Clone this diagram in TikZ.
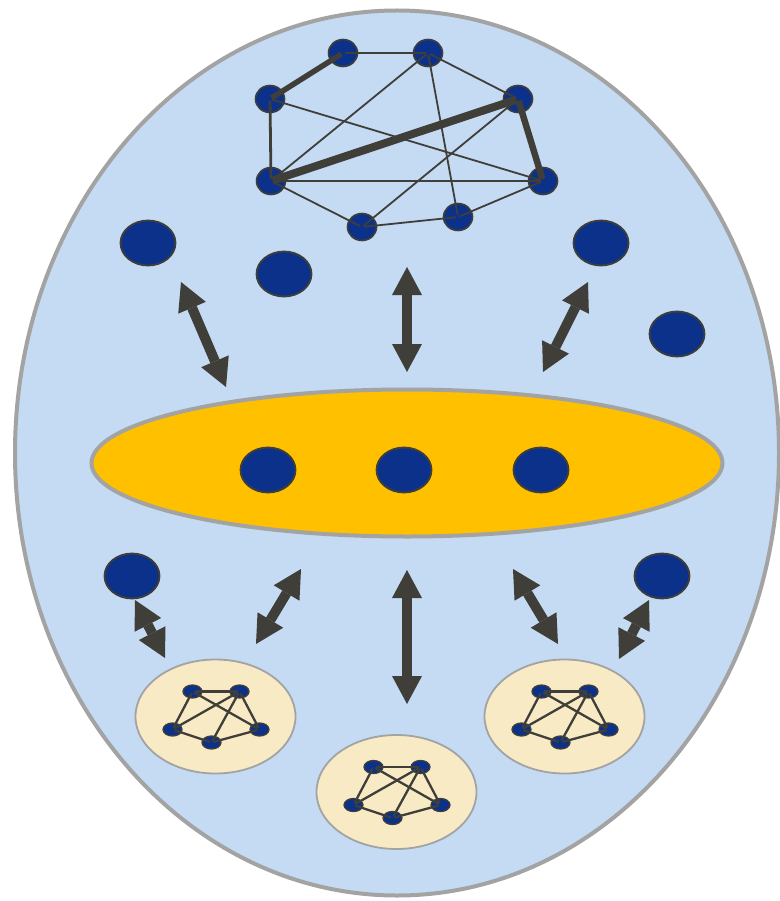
\documentclass[tikz,border=0pt]{standalone}
\usetikzlibrary{arrows.meta,shapes.geometric}
\definecolor{bgblue}{HTML}{C4DBF3}
\definecolor{gold}{HTML}{FFC000}
\definecolor{nodeblue}{HTML}{0B318A}
\definecolor{darkg}{HTML}{403E39}
\definecolor{rimgray}{HTML}{A3A3A3}
\definecolor{cream}{HTML}{F9EAC6}
\tikzset{
  outerbox/.style={ellipse, draw=rimgray, line width=4pt, fill=bgblue, inner sep=0pt},
  corebox/.style={ellipse, draw=rimgray, line width=4pt, fill=gold, inner sep=0pt},
  creambox/.style={ellipse, draw=rimgray, line width=1.8pt, fill=cream, inner sep=0pt, minimum width=160pt, minimum height=114pt},
  bignode/.style={ellipse, draw=darkg, line width=1.8pt, fill=nodeblue, inner sep=0pt, minimum width=55pt, minimum height=45pt},
  topnode/.style={ellipse, draw=darkg, line width=1.6pt, fill=nodeblue, inner sep=0pt, minimum width=29pt, minimum height=27pt},
  smallnode/.style={ellipse, draw=darkg, line width=1.3pt, fill=nodeblue, inner sep=0pt, minimum width=19pt, minimum height=13pt},
  link/.style={draw=darkg, line width=1.8pt, shorten <=2pt, shorten >=2pt},
  slink/.style={draw=darkg, line width=2.3pt, shorten <=2pt, shorten >=2pt},
  duo/.style={draw=darkg, line width=10pt,
    {Triangle[width=30pt,length=28pt,line width=0pt]}-{Triangle[width=30pt,length=28pt,line width=0pt]}}
}
\begin{document}
\begin{tikzpicture}[x=1pt,y=-1pt]
\useasboundingbox (0,0) rectangle (779,901);
% background ellipses
\node[outerbox, minimum width=764pt, minimum height=885pt] (outer) at (397,453) {};
\node[corebox, minimum width=631pt, minimum height=147pt] (core) at (407,463) {};
\node[creambox] (c1) at (215.5,716.5) {};
\node[creambox] (c2) at (396.5,792) {};
\node[creambox] (c3) at (564.5,716.5) {};
% top network
\node[topnode] (A) at (343,53) {};
\node[topnode] (B) at (428,53) {};
\node[topnode] (C) at (270,99) {};
\node[topnode] (D) at (518,99) {};
\node[topnode] (E) at (271,181) {};
\node[topnode] (F) at (543,181) {};
\node[topnode] (G) at (362,227) {};
\node[topnode] (H) at (458,217) {};
\draw[link] (A.center) -- (B.center);
\draw[link, line width=5.5pt] (A.center) -- (C.center);
\draw[link] (B.center) -- (D.center);
\draw[link] (B.center) -- (E.center);
\draw[link] (B.center) -- (H.center);
\draw[link, line width=2.8pt] (C.center) -- (E.center);
\draw[link] (C.center) -- (F.center);
\draw[link, line width=8pt] (D.center) -- (E.center);
\draw[link, line width=6.5pt] (D.center) -- (F.center);
\draw[link] (D.center) -- (G.center);
\draw[link, line width=2.4pt] (E.center) -- (F.center);
\draw[link] (E.center) -- (G.center);
\draw[link] (G.center) -- (H.center);
\draw[link] (H.center) -- (F.center);
% single large nodes
\node[bignode] (b1) at (148,243) {};
\node[bignode] (b2) at (284,274) {};
\node[bignode] (b3) at (601,243) {};
\node[bignode] (b4) at (677,334) {};
\node[bignode] (m1) at (268,470) {};
\node[bignode] (m2) at (404,470) {};
\node[bignode] (m3) at (541,470) {};
\node[bignode] (b5) at (132,576) {};
\node[bignode] (b6) at (662,576) {};
% small networks
\foreach \k/\cx/\cy in {1/215.5/716.5, 2/396.5/792, 3/564.5/716.5}{
  \begin{scope}[shift={(\cx,\cy)}]
    \node[smallnode] (s\k-a) at (-23,-25) {};
    \node[smallnode] (s\k-b) at (24,-25) {};
    \node[smallnode] (s\k-c) at (-43,13) {};
    \node[smallnode] (s\k-d) at (-4,26) {};
    \node[smallnode] (s\k-e) at (44,13) {};
    \draw[slink] (s\k-a.center) -- (s\k-b.center);
    \draw[slink] (s\k-a.center) -- (s\k-c.center);
    \draw[slink] (s\k-a.center) -- (s\k-e.center);
    \draw[slink] (s\k-b.center) -- (s\k-c.center);
    \draw[slink] (s\k-b.center) -- (s\k-d.center);
    \draw[slink] (s\k-b.center) -- (s\k-e.center);
    \draw[slink] (s\k-c.center) -- (s\k-d.center);
    \draw[slink] (s\k-d.center) -- (s\k-e.center);
  \end{scope}
}
% arrow end points
\coordinate (a1s) at (181,282); \coordinate (a1e) at (226,387);
\coordinate (a2s) at (407,267); \coordinate (a2e) at (407,372);
\coordinate (a3s) at (588,282); \coordinate (a3e) at (543,372);
\coordinate (a4s) at (135,600); \coordinate (a4e) at (165,658);
\coordinate (a5s) at (301,569); \coordinate (a5e) at (256,644);
\coordinate (a6s) at (407,570); \coordinate (a6e) at (407,704);
\coordinate (a7s) at (513,569); \coordinate (a7e) at (558,644);
\coordinate (a8s) at (649,600); \coordinate (a8e) at (619,659);
\foreach \i in {1,...,8}{ \draw[duo] (a\i s) -- (a\i e); }
\end{tikzpicture}
\end{document}
